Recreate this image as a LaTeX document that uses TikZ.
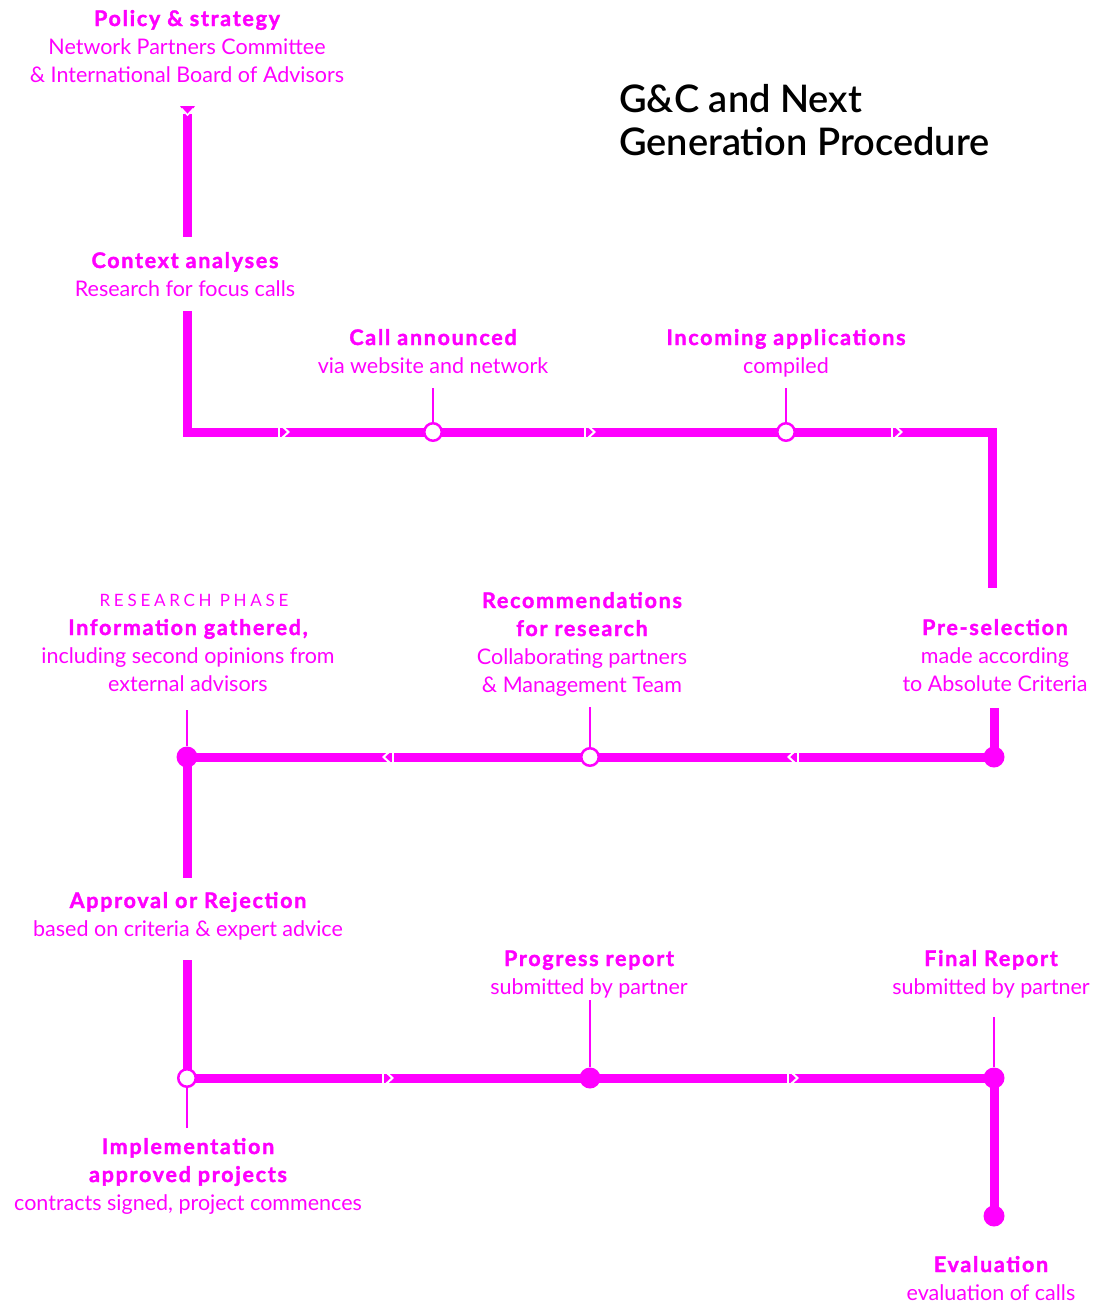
\documentclass[tikz,border=0pt]{standalone}
\usepackage{fontspec}
\usepackage{tikz}
\usetikzlibrary{positioning}

\setmainfont{Lato}
\IfFontExistsTF{Lato Bold}{\newfontfamily\heavyfont{Lato Bold}[FakeBold=1.7, LetterSpace=8]}{\newfontfamily\heavyfont{Lato}[FakeBold=3, LetterSpace=8]}
\IfFontExistsTF{Lato Semibold}{\newfontfamily\titlefont{Lato Semibold}}{\newcommand\titlefont{\bfseries}}
\newcommand\hd[1]{{\heavyfont #1}}

\definecolor{mag}{HTML}{FF00FF}

\tikzset{
  track/.style={draw=mag, line width=9},
  tick/.style={draw=mag, line width=2},
  opendot/.style={circle, draw=mag, fill=white, line width=2.5, minimum size=17.5, inner sep=0},
  fulldot/.style={circle, fill=mag, minimum size=21, inner sep=0},
  stopbox/.style={align=center, text=mag, inner sep=0, anchor=base, font=\fontsize{21.5}{28}\selectfont},
  flowmark/.pic={
    \draw[white, line width=1.8] (-5,-6) -- (-5,6);
    \draw[white, line width=2] (-2,-6) -- (4.5,0) -- (-2,6);
  },
}

\begin{document}
\begin{tikzpicture}[x=1pt, y=-1pt]
    \useasboundingbox (0,0) rectangle (1094,1304);

    % title
    \node[anchor=base west, align=left, inner sep=0, font=\titlefont\fontsize{38}{43}\selectfont] (title) at (619,155) {G\&C and Next\\Generation Procedure};

    % stops (placed at the baseline of their last line)
    \node[stopbox] (policy) at (187,82) {\hd{Policy \& strategy}\\Network Partners Committee\\\& International Board of Advisors};
    \node[stopbox] (context) at (185,296) {\hd{Context analyses}\\Research for focus calls};
    \node[stopbox] (call) at (433,373) {\hd{Call announced}\\via website and network};
    \node[stopbox] (incoming) at (786,373) {\hd{Incoming applications}\\compiled};
    \node[stopbox, font=\fontsize{17}{28}\selectfont\addfontfeatures{LetterSpace=22}] (phase) at (194,606) {RESEARCH PHASE};
    \node[stopbox] (info) at (188,691) {\hd{Information gathered,}\\including second opinions from\\external advisors};
    \node[stopbox] (recommend) at (582,692) {\hd{Recommendations}\\\hd{for research}\\Collaborating partners\\\& Management Team};
    \node[stopbox] (presel) at (995,691) {\hd{Pre-selection}\\made according\\to Absolute Criteria};
    \node[stopbox] (approval) at (188,936) {\hd{Approval or Rejection}\\based on criteria \& expert advice};
    \node[stopbox] (implement) at (188,1210) {\hd{Implementation}\\\hd{approved projects}\\contracts signed, project commences};
    \node[stopbox] (progress) at (589,994) {\hd{Progress report}\\submitted by partner};
    \node[stopbox] (final) at (991,994) {\hd{Final Report}\\submitted by partner};
    \node[stopbox] (evaluation) at (991,1300) {\hd{Evaluation}\\evaluation of calls};

    % track points
    \coordinate (a0) at (187,114);
    \coordinate (a1) at (187,237);
    \coordinate (b0) at (187,311);
    \coordinate (b1) at (187,432);
    \coordinate (b2) at (992,432);
    \coordinate (b3) at (992,588);
    \coordinate (c0) at (994,708);
    \coordinate (c1) at (994,757);
    \coordinate (c2) at (187,757);
    \coordinate (c3) at (187,878);
    \coordinate (d0) at (187,960);
    \coordinate (d1) at (187,1078);
    \coordinate (d2) at (994,1078);
    \coordinate (d3) at (994,1216);

    \draw[track] (a0) -- (a1);
    \draw[track] (b0) -- (b1) -- (b2) -- (b3);
    \draw[track] (c0) -- (c1) -- (c2) -- (c3);
    \draw[track] (d0) -- (d1) -- (d2) -- (d3);

    % start mark
    \fill[mag] (180,106) -- (195,106) -- (187.5,117) -- cycle;
    \draw[white, line width=1.6] (181.5,108.5) -- (187.5,115) -- (193.5,108.5);

    % direction marks
    \pic at (284,432) {flowmark};
    \pic at (590,432) {flowmark};
    \pic at (897,432) {flowmark};
    \pic[rotate=180] at (388,757) {flowmark};
    \pic[rotate=180] at (793,757) {flowmark};
    \pic at (388,1078) {flowmark};
    \pic at (793,1078) {flowmark};

    % stations
    \node[opendot] (callpt) at (433,432) {};
    \node[opendot] (incomingpt) at (786,432) {};
    \node[fulldot] (preselpt) at (c1) {};
    \node[opendot] (recommendpt) at (590,757) {};
    \node[fulldot] (infopt) at (c2) {};
    \node[opendot] (implementpt) at (d1) {};
    \node[fulldot] (progresspt) at (590,1078) {};
    \node[fulldot] (finalpt) at (d2) {};
    \node[fulldot] (evaluationpt) at (d3) {};

    \coordinate (calltick) at (433,388);
    \coordinate (incomingtick) at (786,388);
    \coordinate (recommendtick) at (590,707);
    \coordinate (infotick) at (187,710);
    \coordinate (implementtick) at (187,1128);
    \coordinate (progresstick) at (590,1000);
    \coordinate (finaltick) at (994,1017);

    \draw[tick] (calltick) -- (callpt);
    \draw[tick] (incomingtick) -- (incomingpt);
    \draw[tick] (recommendtick) -- (recommendpt);
    \draw[tick] (infotick) -- (infopt);
    \draw[tick] (implementtick) -- (implementpt);
    \draw[tick] (progresstick) -- (progresspt);
    \draw[tick] (finaltick) -- (finalpt);
\end{tikzpicture}
\end{document}
